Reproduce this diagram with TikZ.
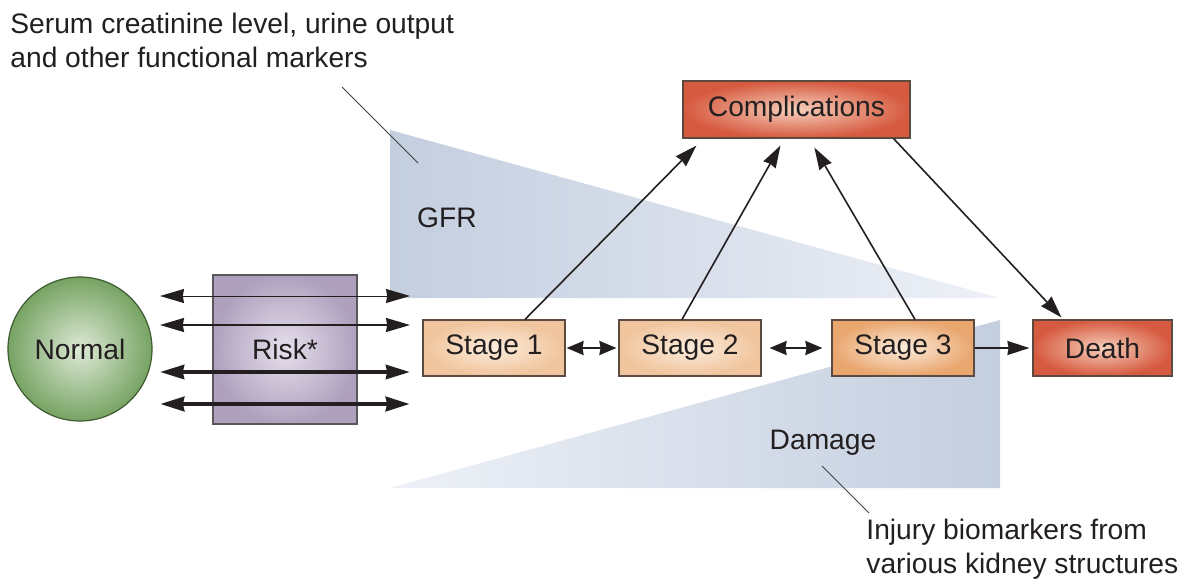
\documentclass[tikz,border=0pt]{standalone}
\usepackage{fontspec}
\setmainfont{Liberation Sans}
\usetikzlibrary{arrows.meta,calc}
\definecolor{txt}{HTML}{231F20}
\definecolor{gfrA}{HTML}{C3CEDF}
\definecolor{gfrB}{HTML}{EEF1F7}
\definecolor{grnIn}{HTML}{DDE9D6}
\definecolor{grnOut}{HTML}{77A363}
\definecolor{grnLine}{HTML}{3F5C33}
\definecolor{purIn}{HTML}{E6DFEC}
\definecolor{purOut}{HTML}{AFA1BE}
\definecolor{stIn}{HTML}{FCECDC}
\definecolor{stOut}{HTML}{F0C49C}
\definecolor{st3Out}{HTML}{E9A66E}
\definecolor{redIn}{HTML}{F6CFBB}
\definecolor{redOut}{HTML}{D65A40}
\definecolor{boxLine}{HTML}{5A4A40}
\tikzset{
  lbl/.style={text=txt,font=\fontsize{14.1}{16.9}\selectfont},
  stagebox/.style={lbl,draw=boxLine,line width=0.6pt,shading=radial,inner color=stIn,outer color=stOut,minimum width=71pt,minimum height=28pt,inner sep=0pt},
  redbox/.style={lbl,draw=boxLine,line width=0.6pt,shading=radial,inner color=redIn,outer color=redOut,inner sep=0pt},
  bigtip/.style={{Stealth[length=12pt,width=7pt,inset=0.6pt]}-{Stealth[length=12pt,width=7pt,inset=0.6pt]}},
  smalltip/.style={{Stealth[length=8.5pt,width=7pt,inset=0.6pt]}-{Stealth[length=8.5pt,width=7pt,inset=0.6pt]}},
  diag/.style={-{Stealth[length=11pt,width=7pt,inset=0.6pt]},line width=0.8pt,txt},
  leader/.style={draw=black!75,line width=0.5pt}
}
\begin{document}
\begin{tikzpicture}[x=0.5pt,y=-0.5pt]
\useasboundingbox (0,0) rectangle (1188,580);
% triangles
\shade[left color=gfrA,right color=gfrB] (390,130) -- (390,298) -- (1000,298) -- cycle;
\shade[left color=gfrB,right color=gfrA] (390,488) -- (1000,488) -- (1000,320) -- cycle;
\node[lbl] (gfr) at (447,218) {GFR};
\node[lbl] (dmg) at (823,443) {Damage};
% captions
\node[lbl,anchor=north west,align=left,inner sep=0pt,font=\fontsize{14.1}{16.6}\selectfont] (serum) at (10,13) {Serum creatinine level, urine output\\and other functional markers};
\node[lbl,anchor=north west,align=left,inner sep=0pt,font=\fontsize{14.1}{16.9}\selectfont] (inj) at (866,519) {Injury biomarkers from\\various kidney structures};
\coordinate (l1a) at (342,87); \coordinate (l1b) at (418,163);
\draw[leader] (l1a) -- (l1b);
\coordinate (l2a) at (822,466); \coordinate (l2b) at (869,513);
\draw[leader] (l2a) -- (l2b);
% left nodes
\node[lbl,circle,draw=grnLine,line width=0.6pt,shading=radial,inner color=grnIn,outer color=grnOut,minimum size=72pt,inner sep=0pt] (normal) at (80,349) {Normal};
\node[lbl,draw=black!65,line width=0.6pt,shading=radial,inner color=purIn,outer color=purOut,minimum width=72pt,minimum height=74.5pt,inner sep=0pt] (risk) at (285,349.5) {Risk*};
% four double arrows
\foreach \y/\w [count=\i] in {296/0.5pt,325/0.8pt,372/2pt,404/2.4pt}{
  \coordinate (al\i) at (160,\y);
  \coordinate (ar\i) at (410,\y);
  \draw[bigtip,line width=\w,txt] (al\i) -- (ar\i);
}
% stages
\node[stagebox] (s1) at (494,348) {Stage 1};
\node[stagebox] (s2) at (690,348) {Stage 2};
\node[stagebox,outer color=st3Out] (s3) at (903,348) {Stage 3};
\node[redbox,minimum width=69.5pt,minimum height=28pt] (death) at (1102.5,348) {Death};
\node[redbox,minimum width=113.5pt,minimum height=28.5pt] (comp) at (796.5,109.5) {Complications};
% stage arrows
\draw[smalltip,line width=1.1pt,txt,shorten <=0.5pt,shorten >=1pt] (s1.east) -- (s2.west);
\draw[smalltip,line width=1.1pt,txt,shorten <=4pt,shorten >=4.5pt] (s2.east) -- (s3.west);
\draw[-{Stealth[length=11pt,width=7pt,inset=0.6pt]},line width=0.8pt,txt,shorten >=1.5pt] (s3.east) -- (death.west);
% diagonal arrows
\draw[diag] ($(s1.north)+(31,0)$) -- ($(comp.south west)+(14,7)$);
\draw[diag] ($(s2.north)+(-8,0)$) -- ($(comp.south west)+(98,7)$);
\draw[diag] ($(s3.north)+(12,0)$) -- ($(comp.south west)+(132,9)$);
\draw[diag] ($(comp.south east)+(-17,0)$) -- ($(death.north west)+(29,-2)$);
\end{tikzpicture}
\end{document}
